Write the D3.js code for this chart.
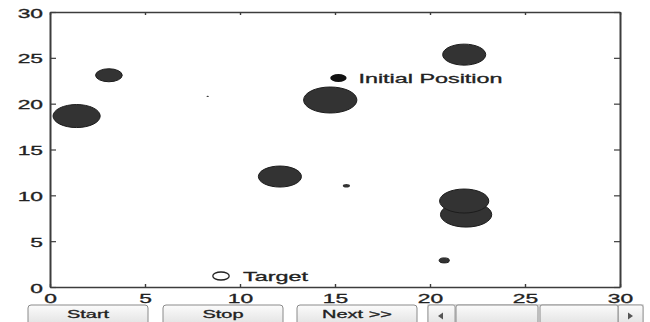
<!DOCTYPE html>
<html>
<head>
<meta charset="utf-8">
<script src="https://cdn.jsdelivr.net/npm/d3@7"></script>
<style>
  html, body { margin: 0; padding: 0; background: #fff; }
  svg { display: block; font-family: "Liberation Sans", Arial, Helvetica, sans-serif; }
  svg text { stroke: #222; stroke-width: 0.3px; }
</style>
</head>
<body>
<svg id="chart" width="650" height="322"></svg>
<script>
// ---- data ----
const xTicks = [0, 5, 10, 15, 20, 25, 30];
const yTicks = [0, 5, 10, 15, 20, 25, 30];
const bubbleX = [1.4, 3.1, 8.3, 14.75, 12.1, 15.6, 21.8, 21.9, 21.8, 20.75];
const bubbleY = [18.65, 23.1, 20.8, 20.4, 12.05, 11.05, 25.35, 7.9, 9.38, 2.9];
const bubbleSize = [23, 13, 1.2, 26, 21, 3.5, 21, 25, 24, 5];
const initialPos = [15.18, 22.8];
const initialSize = 8;
const initialLabel = "Initial Position";
const targetPos = [9.0, 1.2];
const targetSize = 8;
const targetLabel = "Target";
const buttonLabels = ["Start", "Stop", "Next >>"];

// ---- layout ----
const svg = d3.select("#chart");
const SX = 1.9;      // horizontal text stretch
const ASPECT = 2.05; // marker horizontal stretch
const mLeft = 50, mRight = 620, mTop = 12, mBottom = 287;
const x = d3.scaleLinear().domain([0, 30]).range([mLeft, mRight]);
const y = d3.scaleLinear().domain([0, 30]).range([mBottom, mTop]);
const size = d3.scaleLinear().domain([0, 30]).range([0, 30]);

const axisColor = "#3c3c3c";
const textColor = "#222";

function styleAxis(g, vertical) {
  g.select(".domain").attr("stroke", axisColor).attr("stroke-width", vertical ? 2 : 1.4);
  g.selectAll(".tick line").attr("stroke", axisColor).attr("stroke-width", vertical ? 1.2 : 1.4);
}

// bottom axis
const gB = svg.append("g").attr("transform", `translate(0,${mBottom})`)
  .call(d3.axisBottom(x).tickValues(xTicks).tickSizeInner(-3).tickSizeOuter(0).tickPadding(7.5));
styleAxis(gB, false);
gB.selectAll("text").attr("font-size", 12).attr("fill", textColor)
  .attr("font-family", "Liberation Sans, Arial, sans-serif")
  .attr("transform", `scale(${SX},1)`);

// top axis
const gT = svg.append("g").attr("transform", `translate(0,${mTop})`)
  .call(d3.axisTop(x).tickValues(xTicks).tickSizeInner(-3).tickSizeOuter(0).tickFormat(""));
styleAxis(gT, false);

// left axis
const gL = svg.append("g").attr("transform", `translate(${mLeft},0)`)
  .call(d3.axisLeft(y).tickValues(yTicks).tickSizeInner(-6).tickSizeOuter(0).tickPadding(3.7));
styleAxis(gL, true);
gL.selectAll("text").attr("font-size", 12).attr("fill", textColor)
  .attr("font-family", "Liberation Sans, Arial, sans-serif")
  .attr("dy", "0.42em")
  .attr("transform", `scale(${SX},1)`);

// right axis
const gR = svg.append("g").attr("transform", `translate(${mRight},0)`)
  .call(d3.axisRight(y).tickValues(yTicks).tickSizeInner(-6).tickSizeOuter(0).tickFormat(""));
styleAxis(gR, true);

// ---- bubbles ----
const bubbles = bubbleX.map((v, i) => ({ x: v, y: bubbleY[i], s: bubbleSize[i] }));
svg.append("g").selectAll("ellipse").data(bubbles).join("ellipse")
  .attr("cx", d => x(d.x))
  .attr("cy", d => y(d.y))
  .attr("ry", d => size(d.s) / 2)
  .attr("rx", d => size(d.s) / 2 * ASPECT)
  .attr("fill", "#333")
  .attr("stroke", d => d.s > 4 ? "#1c1c1c" : "none")
  .attr("stroke-width", 1);

// initial position marker + label
svg.append("ellipse")
  .attr("cx", x(initialPos[0])).attr("cy", y(initialPos[1]))
  .attr("ry", size(initialSize) / 2).attr("rx", size(initialSize) / 2 * ASPECT)
  .attr("fill", "#111");
svg.append("text")
  .attr("transform", `translate(${x(initialPos[0]) + 20},${y(initialPos[1]) + 5}) scale(${SX},1)`)
  .attr("font-size", 12.3).attr("fill", textColor)
  .text(initialLabel);

// target marker + label
svg.append("ellipse")
  .attr("cx", x(targetPos[0])).attr("cy", y(targetPos[1]))
  .attr("ry", size(targetSize) / 2).attr("rx", size(targetSize) / 2 * ASPECT)
  .attr("fill", "#fff").attr("stroke", "#222").attr("stroke-width", 1.3);
svg.append("text")
  .attr("transform", `translate(${x(targetPos[0]) + 22},${y(targetPos[1]) + 4.5}) scale(${SX},1)`)
  .attr("font-size", 12.3).attr("fill", textColor)
  .text(targetLabel);

// ---- UI controls ----
const defs = svg.append("defs");
const grad = defs.append("linearGradient").attr("id", "btn").attr("x1", 0).attr("y1", 0).attr("x2", 0).attr("y2", 1);
grad.append("stop").attr("offset", "0%").attr("stop-color", "#fbfbfb");
grad.append("stop").attr("offset", "100%").attr("stop-color", "#e2e2e2");

const btnX = d3.scaleOrdinal().domain(buttonLabels).range([28, 163, 297]);
const btnW = 120;
const btns = svg.append("g").selectAll("g").data(buttonLabels).join("g")
  .attr("transform", d => `translate(${btnX(d)},305)`);
btns.append("rect").attr("width", btnW).attr("height", 20).attr("rx", 3)
  .attr("fill", "url(#btn)").attr("stroke", "#8a8a8a").attr("stroke-width", 1);
btns.append("text")
  .attr("transform", `translate(${btnW / 2},13) scale(${SX},1)`)
  .attr("text-anchor", "middle").attr("font-size", 10.5).attr("fill", "#222")
  .text(d => d);

// slider
const sl = svg.append("g").attr("transform", "translate(428,305)");
sl.append("rect").attr("x", 0).attr("width", 215).attr("height", 20)
  .attr("fill", "#f2f2f2").attr("stroke", "#b0b0b0");
sl.append("rect").attr("x", 0).attr("width", 27).attr("height", 20).attr("rx", 2)
  .attr("fill", "url(#btn)").attr("stroke", "#9a9a9a");
sl.append("rect").attr("x", 190).attr("width", 25).attr("height", 20).attr("rx", 2)
  .attr("fill", "url(#btn)").attr("stroke", "#9a9a9a");
sl.append("rect").attr("x", 28).attr("width", 82).attr("height", 20).attr("rx", 2)
  .attr("fill", "url(#btn)").attr("stroke", "#8a8a8a");
sl.append("rect").attr("x", 112).attr("width", 78).attr("height", 20).attr("rx", 2)
  .attr("fill", "url(#btn)").attr("stroke", "#8a8a8a");
sl.append("path").attr("d", "M10,11 L15,7.5 L15,14.5 Z").attr("fill", "#555");
sl.append("path").attr("d", "M205,11 L200,7.5 L200,14.5 Z").attr("fill", "#555");
</script>
</body>
</html>
